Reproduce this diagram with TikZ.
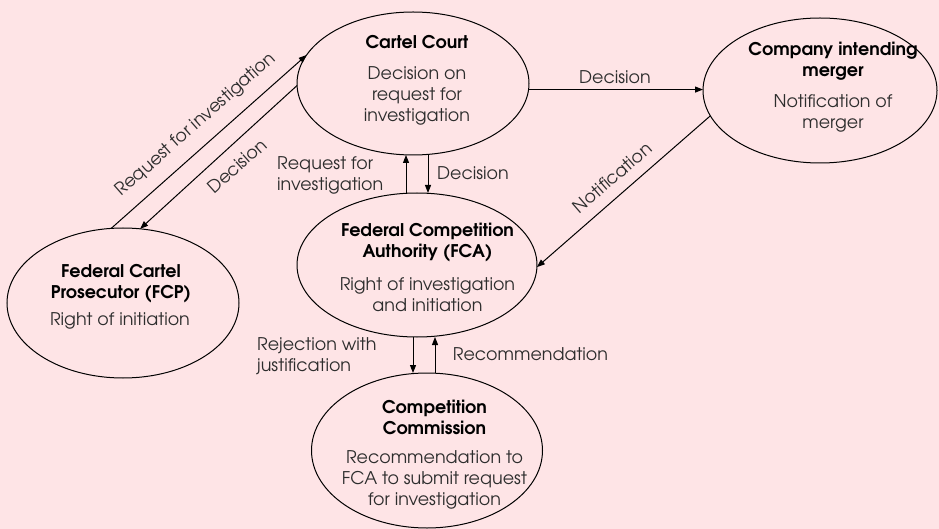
\documentclass[tikz,border=0pt]{standalone}
\usepackage{fontspec}
\setmainfont{TeX Gyre Adventor}
\usetikzlibrary{shapes.geometric,arrows.meta,calc}
\definecolor{bg}{RGB}{254,228,230}
\definecolor{txt}{RGB}{45,45,45}
\begin{document}
\begin{tikzpicture}[x=1pt,y=-1pt,
  oval/.style={ellipse,draw=black,line width=1pt,inner sep=0pt,outer sep=0pt},
  ttl/.style={font=\fontsize{17.5}{21}\selectfont\bfseries,align=center,text=black,inner sep=0pt},
  body/.style={font=\fontsize{17.5}{21}\selectfont,align=center,text=txt,inner sep=0pt},
  lab/.style={font=\fontsize{17.5}{21}\selectfont,text=txt,inner sep=0pt},
  arr/.style={line width=1pt,-{Triangle[length=8pt,width=6pt]}}]
\fill[bg] (0,0) rectangle (939,529);
\useasboundingbox (0,0) rectangle (939,529);

% ellipses
\node[oval,minimum width=232pt,minimum height=143pt] (cc) at (413,83.5) {};
\node[oval,minimum width=234pt,minimum height=145pt] (co) at (820,90.5) {};
\node[oval,minimum width=232pt,minimum height=150pt] (fcp) at (123,303) {};
\node[oval,minimum width=240pt,minimum height=144pt] (fca) at (417,265) {};
\node[oval,minimum width=231pt,minimum height=155pt] (com) at (427,450.5) {};

% texts
\node[ttl] (cct) at (417,42) {Cartel Court};
\node[body] (ccb) at (417,96) {Decision on\\request for\\investigation};
\node[ttl] (cot) at (833,61.5) {Company intending\\merger};
\node[body] (cob) at (833,113.5) {Notification of\\merger};
\node[ttl] (fcpt) at (121,283.5) {Federal Cartel\\Prosecutor (FCP)};
\node[body] (fcpb) at (120,321) {Right of initiation};
\node[ttl] (fcat) at (427.5,242.5) {Federal Competition\\Authority (FCA)};
\node[body] (fcab) at (427.5,294.5) {Right of investigation\\and initiation};
\node[ttl] (comt) at (434.5,417.5) {Competition\\Commission};
\node[body] (comb) at (434.5,479.5) {Recommendation to\\FCA to submit request\\for investigation};

% connectors
\draw[arr] (fcp.99.9) -- (cc.165.8);
\draw[arr] (cc.181.7) -- (fcp.77.4);
\draw[arr] (cc.-3.7) -- (cc.-3.7 -| co.west);
\draw[arr] (co.193.3) -- (fca.-1);
\draw[arr] ([xshift=-11pt]fca.north) -- ([xshift=-11pt]fca.north |- cc.south);
\draw[arr] ([xshift=15pt]cc.south) -- ([xshift=15pt]cc.south |- fca.north);
\draw[arr] ([xshift=-4pt]fca.south) -- ([xshift=-4pt]fca.south |- com.north);
\draw[arr] ([xshift=8pt]com.north) -- ([xshift=8pt]com.north |- fca.south);

% labels
\node[lab,rotate=41.4] (l1) at (196,125) {Request for investigation};
\node[lab,rotate=41.7] (l2) at (237,166) {Decision};
\node[lab] (l3) at (615,77) {Decision};
\node[lab,rotate=40.8] (l4) at (612.5,177.5) {Notification};
\node[lab,align=left,anchor=west] (l5) at (277,175) {Request for\\investigation};
\node[lab] (l6) at (473,173) {Decision};
\node[lab,align=left,anchor=west] (l7) at (257,356.5) {Rejection with\\justification};
\node[lab] (l8) at (530.5,354) {Recommendation};
\end{tikzpicture}
\end{document}
